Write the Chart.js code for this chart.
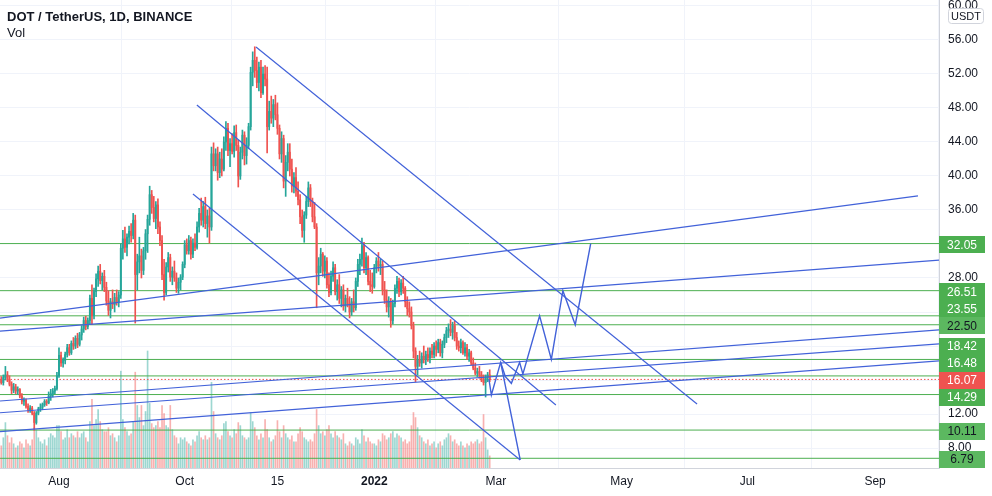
<!DOCTYPE html>
<html>
<head>
<meta charset="utf-8">
<title>DOT / TetherUS</title>
<script src="https://cdn.jsdelivr.net/npm/chart.js@4.4.1/dist/chart.umd.min.js"></script>
<style>
html, body { margin: 0; padding: 0; background: #ffffff; }
#wrap { position: relative; width: 992px; height: 496px; }
</style>
</head>
<body>
<div id="wrap"><canvas id="chart" width="992" height="496"></canvas></div>
<script>
// days are counted from 1 Jul 2021 (day 0); first candle is 3 Jul
var firstDay = 2;

// daily candles [open, high, low, close]
var jul = [
	[15.6,16.3,15.3,16.0],[16.0,16.4,15.5,15.7],[15.7,16.6,15.4,16.3],[16.3,17.6,16.0,16.6],
	[16.6,17.0,15.8,16.0],[16.0,16.5,15.3,15.5],[15.5,15.8,14.4,14.8],[14.8,15.6,14.5,15.2],
	[15.2,15.5,14.4,14.7],[14.7,15.2,14.3,14.9],[14.9,15.0,13.9,14.1],[14.1,14.4,13.2,13.5],
	[13.5,13.9,13.0,13.6],[13.6,13.8,12.7,12.9],[12.9,13.2,12.2,12.5],[12.5,13.0,12.2,12.7],
	[12.7,12.9,11.9,12.1],[12.1,12.3,10.1,11.0],[11.0,12.3,10.8,12.1],[12.1,12.8,11.9,12.6],
	[12.6,13.2,12.3,12.8],[12.8,13.3,12.5,13.1],[13.1,13.7,12.9,13.5],[13.5,13.7,13.0,13.3],
	[13.3,14.6,13.2,14.1],[14.1,14.9,13.6,14.4],[14.4,15.0,14.0,14.7],[14.7,15.3,14.4,15.0],
	[15.0,16.9,14.8,16.5]
];
var aug = [
	[16.5,19.8,16.3,18.9],[18.9,19.3,17.6,18.0],[18.0,18.6,17.5,18.3],[18.3,19.3,17.9,19.0],
	[19.0,20.2,18.7,19.8],[19.8,20.2,18.9,19.2],[19.2,20.6,19.0,20.3],[20.3,21.0,19.6,20.0],
	[20.0,21.2,19.7,20.9],[20.9,21.5,19.8,20.2],[20.2,21.6,20.0,21.3],[21.3,22.4,20.7,22.0],
	[22.0,23.4,21.6,23.0],[23.0,23.5,21.9,22.3],[22.3,23.3,22.0,23.0],[23.0,26.0,22.6,25.6],
	[25.6,27.2,22.5,23.6],[23.6,26.8,23.2,26.4],[26.4,28.5,25.8,27.9],[27.9,29.4,27.0,28.8],
	[28.8,29.6,27.3,27.7],[27.7,28.6,26.6,28.2],[28.2,28.9,26.4,26.9],[26.9,27.5,24.8,25.3],
	[25.3,26.5,23.6,24.2],[24.2,25.6,23.3,25.2],[25.2,26.6,24.4,24.9],[24.9,26.2,24.0,25.7],
	[25.7,26.6,24.8,25.2],[25.2,26.4,24.6,26.0],[26.0,32.0,25.6,31.5]
];
var sep = [
	[31.5,33.6,30.2,32.6],[32.6,34.0,31.0,31.6],[31.6,33.2,30.6,32.8],[32.8,34.1,32.0,33.5],
	[33.5,34.4,32.2,33.0],[33.0,35.6,32.6,34.8],[34.8,35.4,22.7,28.4],[28.4,30.8,26.6,29.9],
	[29.9,32.8,28.6,30.6],[30.6,31.4,28.0,28.9],[28.9,31.6,28.4,31.2],[31.2,33.7,30.2,33.2],
	[33.2,35.4,31.0,34.9],[34.9,38.8,34.2,37.8],[37.8,38.3,35.6,36.3],[36.3,37.6,34.6,35.0],
	[35.0,37.0,33.8,36.6],[36.6,37.3,33.2,34.0],[34.0,34.6,31.8,32.4],[32.4,33.0,27.8,28.4],
	[28.4,30.2,25.4,26.3],[26.3,29.8,26.0,29.3],[29.3,31.0,28.7,30.4],[30.4,30.8,27.6,28.1],
	[28.1,29.3,27.2,28.8],[28.8,30.0,27.6,28.0],[28.0,28.6,26.3,26.8],[26.8,28.0,26.2,27.5],
	[27.5,28.4,26.6,28.1],[28.1,29.9,27.8,29.6]
];
var oct = [
	[29.6,32.4,29.2,31.9],[31.9,32.6,30.8,31.2],[31.2,33.0,30.8,32.4],[32.4,32.8,30.2,30.8],
	[30.8,32.6,30.4,32.1],[32.1,33.2,31.2,31.6],[31.6,34.6,31.4,34.0],[34.0,36.2,33.4,35.6],
	[35.6,37.4,34.2,34.8],[34.8,37.0,34.0,36.4],[36.4,37.5,33.8,34.4],[34.4,36.0,32.8,35.3],
	[35.3,36.2,32.1,34.0],[34.0,43.4,33.6,42.6],[42.6,43.9,40.6,41.2],[41.2,43.2,40.6,42.6],
	[42.6,43.4,39.5,40.4],[40.4,42.8,39.8,42.0],[42.0,43.2,40.0,40.8],[40.8,44.6,40.6,44.0],
	[44.0,46.4,43.0,45.6],[45.6,46.2,42.4,43.0],[43.0,44.4,41.1,43.8],[43.8,45.0,42.6,42.9],
	[42.9,45.9,42.2,45.1],[45.1,46.0,43.0,43.6],[43.6,44.2,38.7,40.0],[40.0,43.4,39.6,42.8],
	[42.8,45.4,42.0,44.8],[44.8,45.2,41.3,42.4],[42.4,44.5,41.4,43.6]
];
var nov = [
	[43.6,46.2,43.2,45.8],[45.8,52.8,45.4,52.2],[52.2,54.6,50.6,53.6],[53.6,55.2,51.6,52.4],
	[52.4,54.0,50.4,51.0],[51.0,53.4,50.0,52.8],[52.8,53.6,49.2,49.8],[49.8,52.8,49.6,52.0],
	[52.0,53.0,50.6,51.4],[51.4,52.8,42.7,45.8],[45.8,48.8,45.4,47.6],[47.6,49.4,46.2,46.8],
	[46.8,49.0,45.8,48.4],[48.4,49.5,46.6,47.2],[47.2,48.6,44.9,45.6],[45.6,46.0,42.0,42.6],
	[42.6,45.2,41.6,44.4],[44.4,44.8,38.6,39.4],[39.4,42.4,37.6,41.6],[41.6,43.8,40.6,42.8],
	[42.8,43.8,40.0,40.8],[40.8,42.0,38.1,38.8],[38.8,40.4,38.0,39.8],[39.8,41.0,37.6,38.2],
	[38.2,39.3,36.6,37.2],[37.2,37.8,34.4,35.2],[35.2,36.0,32.8,33.6],[33.6,35.8,32.2,35.4],
	[35.4,37.6,35.0,37.0],[37.0,39.3,36.4,38.6]
];
var dec = [
	[38.6,39.0,36.4,37.0],[37.0,37.4,34.6,35.2],[35.2,36.9,33.8,34.0],[34.0,34.4,24.5,28.6],
	[28.6,30.4,27.2,29.4],[29.4,31.5,28.6,30.8],[30.8,31.0,28.2,28.8],[28.8,30.6,28.0,30.0],
	[30.0,30.4,26.8,27.2],[27.2,28.6,25.8,26.3],[26.3,28.8,26.0,28.2],[28.2,29.9,27.6,29.2],
	[29.2,29.6,26.0,26.4],[26.4,27.8,25.4,27.2],[27.2,28.4,25.0,25.6],[25.6,27.0,24.6,26.6],
	[26.6,27.2,24.2,24.7],[24.7,26.0,24.0,25.6],[25.6,26.8,24.6,25.0],[25.0,25.8,23.3,24.0],
	[24.0,25.6,23.6,25.2],[25.2,26.6,24.0,24.5],[24.5,28.0,24.2,27.6],[27.6,30.2,27.0,29.6],
	[29.6,30.8,28.4,30.2],[30.2,32.7,29.4,31.8],[31.8,32.2,28.6,29.2],[29.2,31.0,28.4,30.4],
	[30.4,30.6,27.2,27.6],[27.6,28.9,26.4,27.2],[27.2,28.6,26.2,27.0]
];
var jan = [
	[27.0,29.6,26.8,29.2],[29.2,30.4,28.6,30.0],[30.0,31.0,28.8,29.4],[29.4,30.2,28.4,29.6],
	[29.6,30.0,26.0,26.6],[26.6,27.6,25.0,25.4],[25.4,26.6,24.0,24.6],[24.6,25.8,23.4,25.2],
	[25.2,25.6,22.2,23.0],[23.0,25.4,22.6,25.0],[25.0,27.2,24.6,26.8],[26.8,28.2,26.2,27.6],
	[27.6,28.0,25.8,26.4],[26.4,27.8,26.0,27.4],[27.4,28.2,26.2,26.8],[26.8,27.0,24.6,25.2],
	[25.2,25.8,23.6,24.4],[24.4,25.2,23.4,24.0],[24.0,24.6,22.0,22.4],[22.4,22.8,18.6,19.4],
	[19.4,19.8,15.8,17.6],[17.6,18.9,16.6,18.4],[18.4,19.4,17.6,18.0],[18.0,19.2,17.4,18.8],
	[18.8,20.0,18.0,18.4],[18.4,19.4,17.8,19.0],[19.0,19.8,18.2,18.6],[18.6,19.8,18.0,19.4],
	[19.4,20.2,18.6,19.0],[19.0,20.4,18.6,20.0],[20.0,20.6,18.8,19.6]
];
var feb = [
	[19.6,20.8,19.2,20.4],[20.4,20.8,18.8,19.2],[19.2,20.6,18.6,20.2],[20.2,21.4,19.8,21.0],
	[21.0,22.2,20.4,21.8],[21.8,22.6,21.0,22.0],[22.0,23.1,21.2,21.6],[21.6,22.8,20.8,22.4],
	[22.4,22.9,20.6,21.0],[21.0,21.6,19.6,20.0],[20.0,20.6,19.4,19.8],[19.8,20.8,19.2,20.4],
	[20.4,20.6,19.0,19.2],[19.2,20.4,18.8,19.8],[19.8,20.2,18.4,18.8],[18.8,19.6,18.2,19.2],
	[19.2,19.4,17.8,18.0],[18.0,18.6,17.2,17.4],[17.4,18.0,16.6,16.8],[16.8,17.4,16.4,17.0],
	[17.0,17.6,16.2,16.6],[16.6,17.0,15.8,16.0],[16.0,16.6,15.4,15.7],[15.7,16.6,14.0,16.3],
	[16.3,16.9,15.8,16.6],[16.6,17.2,15.8,16.07]
];

// daily volume, millions of DOT
var volJul = [2.6,2.2,3.0,4.5,3.2,2.5,3.0,2.4,2.0,2.2,2.6,2.4,2.0,2.8,2.4,2.2,2.8,4.0,3.8,3.0,2.6,2.4,2.8,2.2,3.0,3.4,3.2,3.0,4.2];
var volAug = [4.2,3.6,2.8,3.0,3.8,3.0,3.4,3.2,3.0,3.6,3.0,3.4,3.6,3.0,2.6,4.6,6.8,4.2,4.8,5.8,4.6,3.8,3.6,3.6,4.0,3.2,3.4,3.0,2.6,3.2,9.6];
var volSep = [4.8,4.0,3.6,3.2,3.4,4.6,9.5,6.2,5.0,6.2,4.2,5.6,11.6,6.4,4.4,4.0,4.2,4.6,4.0,6.2,5.4,4.2,4.0,6.2,3.8,3.2,3.0,2.4,3.0,2.8];
var volOct = [3.0,2.6,2.4,2.2,2.8,2.6,3.2,3.6,3.0,2.8,3.2,2.8,3.0,8.5,5.6,3.4,3.0,2.8,3.2,4.4,4.6,3.6,3.2,3.0,3.8,3.4,4.5,4.2,3.2,3.0,2.8];
var volNov = [3.0,5.5,4.6,4.0,3.2,2.8,3.4,3.0,4.8,3.8,3.0,2.6,2.8,3.2,4.7,3.6,3.0,4.2,3.4,3.0,2.8,3.2,2.6,2.6,3.4,4.0,3.6,3.0,2.8,2.6];
var volDec = [2.8,2.6,3.4,5.8,4.2,3.4,3.6,3.2,3.8,4.2,3.4,3.0,3.6,3.2,3.0,2.8,3.4,2.4,2.2,2.6,2.4,2.2,3.0,2.8,2.4,3.8,3.2,2.6,3.0,2.6,2.4];
var volJan = [2.4,2.2,2.8,2.6,3.4,3.2,2.8,3.0,3.4,3.6,3.0,3.4,3.2,3.0,2.6,2.8,2.4,2.6,4.2,5.5,5.0,4.0,3.2,3.0,2.6,2.4,2.8,2.2,2.4,2.6,2.0];
var volFeb = [2.4,2.6,2.2,2.8,3.0,3.4,3.2,2.6,2.8,2.4,2.2,2.6,2.2,2.0,2.4,2.2,2.6,2.4,2.6,2.8,2.4,2.6,5.3,3.0,1.8,1.2];

// time axis
var tickDays = [31, 92, 137, 184, 243, 304, 365, 427];
var tickLabels = ['Aug', 'Oct', '15', '2022', 'Mar', 'May', 'Jul', 'Sep'];
var priceTicks = [8, 12, 16, 20, 24, 28, 32, 36, 40, 44, 48, 52, 56, 60];

// horizontal levels and last price
var levels = [32.05, 26.51, 23.55, 22.50, 18.42, 16.48, 14.29, 10.11, 6.79];
var lastPrice = 16.07;

// trend lines [[day, price], [day, price]]
var trendLines = [
	[[126.6, 55.18], [340.6, 13.18]],
	[[97.9, 48.35], [272.1, 13.06]],
	[[96.0, 37.88], [254.8, 6.6]],
	[[2.38, 23.29], [447.8, 37.65]],
	[[2.38, 21.76], [458, 30.1]],
	[[2.38, 13.53], [458, 21.9]],
	[[2.38, 12.15], [458, 20.25]],
	[[2.38, 9.92], [458, 18.25]]
];
// projected path
var pathUp = [[239.6,16.12],[240.8,14.24],[245.3,18.08],[247.6,16.39],[250.5,15.61],[254.5,18.08],
	[256.1,16.71],[264.2,23.55],[269.9,18.42],[275.5,26.51],[281.5,22.50],[289.0,32.05]];
var pathDown = [[245.3, 18.08], [254.8, 6.6]];

// ---- styles ----
var UP = '#26a69a', DOWN = '#ef5350';
var GREEN = '#4caf50', BLUE = '#4262d9';
var FONT = '"Liberation Sans", Arial, sans-serif';
var dayMin = 2.38, dayMax = 458;
var darkTextLevels = [22.50, 10.11, 6.79];

var candles = [].concat(jul, aug, sep, oct, nov, dec, jan, feb);
var volumes = [].concat(volJul, volAug, volSep, volOct, volNov, volDec, volJan, volFeb);

var wickData = [], bodyData = [], volData = [], candleColors = [], volColors = [];
candles.forEach(function (c, i) {
	var day = firstDay + i;
	var up = c[3] >= c[0];
	wickData.push({x: day, y: [c[2], c[1]]});
	bodyData.push({x: day, y: [Math.min(c[0], c[3]), Math.max(c[0], c[3])]});
	volData.push({x: day, y: volumes[i]});
	candleColors.push(up ? UP : DOWN);
	volColors.push(up ? 'rgba(38,166,154,0.45)' : 'rgba(239,83,80,0.45)');
});

function lineSet(points, color, width, dash, order)
{
	return {
		type: 'line',
		data: points.map(function (p) { return {x: p[0], y: p[1]}; }),
		borderColor: color,
		borderWidth: width,
		borderDash: dash || [],
		pointRadius: 0,
		fill: false,
		tension: 0,
		order: order,
		yAxisID: 'y'
	};
}

var datasets = [
	{ data: volData, backgroundColor: volColors, barThickness: 1, yAxisID: 'yVol', order: 20 },
	{ data: wickData, backgroundColor: candleColors, barThickness: 1, yAxisID: 'y', order: 6 },
	{ data: bodyData, backgroundColor: candleColors, barThickness: 1.3, minBarLength: 1, yAxisID: 'y', order: 5 }
];
levels.forEach(function (lv) {
	datasets.push(lineSet([[dayMin, lv], [dayMax, lv]], GREEN, 1, null, 10));
});
datasets.push(lineSet([[dayMin, lastPrice], [dayMax, lastPrice]], DOWN, 1, [1.5, 2], 9));
trendLines.forEach(function (t) {
	datasets.push(lineSet(t, BLUE, 1.2, null, 2));
});
datasets.push(lineSet(pathUp, BLUE, 1.4, null, 1));
datasets.push(lineSet(pathDown, BLUE, 1.4, null, 1));

// price labels on the right axis, title texts
var overlay = {
	id: 'overlay',
	afterDraw: function (chart)
	{
		var ctx = chart.ctx;
		var yScale = chart.scales.y;
		var area = chart.chartArea;
		var boxH = 17;

		var cur = {v: lastPrice, y: yScale.getPixelForValue(lastPrice), bg: DOWN, fg: '#ffffff'};
		cur.by = cur.y;
		var items = levels.map(function (v) {
			var dark = darkTextLevels.indexOf(v) >= 0;
			return {v: v, y: yScale.getPixelForValue(v), bg: dark ? '#5cb860' : GREEN, fg: dark ? '#131722' : '#ffffff'};
		});
		var above = items.filter(function (it) { return it.v > lastPrice; }).sort(function (a, b) { return b.y - a.y; });
		var prev = cur.by;
		above.forEach(function (it) { it.by = Math.min(it.y, prev - boxH); prev = it.by; });
		var below = items.filter(function (it) { return it.v < lastPrice; }).sort(function (a, b) { return a.y - b.y; });
		prev = cur.by;
		below.forEach(function (it) { it.by = Math.max(it.y, prev + boxH); prev = it.by; });

		ctx.save();
		ctx.font = '12px ' + FONT;
		ctx.textAlign = 'center';
		ctx.textBaseline = 'middle';
		items.concat([cur]).forEach(function (it) {
			ctx.fillStyle = it.bg;
			ctx.fillRect(area.right, Math.round(it.by - boxH / 2) + 1, 46, boxH);
			ctx.fillStyle = it.fg;
			ctx.fillText(it.v.toFixed(2), area.right + 23, Math.round(it.by) + 1.5);
		});

		// currency badge
		ctx.fillStyle = '#ffffff';
		ctx.strokeStyle = '#d1d4dc';
		ctx.lineWidth = 1;
		ctx.beginPath();
		ctx.roundRect(948.5, 8.5, 35, 15, 3);
		ctx.fill();
		ctx.stroke();
		ctx.fillStyle = '#131722';
		ctx.font = '11px ' + FONT;
		ctx.fillText('USDT', 966, 16.5);

		// legend
		ctx.textAlign = 'left';
		ctx.textBaseline = 'alphabetic';
		ctx.fillStyle = '#131722';
		ctx.font = 'bold 13px ' + FONT;
		ctx.fillText('DOT / TetherUS, 1D, BINANCE', 7, 21);
		ctx.font = '13px ' + FONT;
		ctx.fillText('Vol', 7, 37);
		ctx.restore();
	}
};

new Chart(document.getElementById('chart').getContext('2d'), {
	type: 'bar',
	data: { datasets: datasets },
	plugins: [overlay],
	options: {
		responsive: false,
		animation: false,
		devicePixelRatio: 1,
		layout: { padding: 0 },
		plugins: { legend: { display: false }, tooltip: { enabled: false } },
		datasets: { bar: { grouped: false, borderWidth: 0 } },
		scales: {
			x: {
				type: 'linear',
				min: dayMin,
				max: dayMax,
				offset: false,
				afterBuildTicks: function (axis) {
					axis.ticks = tickDays.map(function (d) { return {value: d}; });
				},
				afterFit: function (axis) { axis.height = 28; axis.paddingLeft = 0; axis.paddingRight = 0; },
				ticks: {
					autoSkip: false,
					maxRotation: 0,
					padding: 6,
					color: '#131722',
					callback: function (v) { return tickLabels[tickDays.indexOf(v)]; },
					font: function (c) {
						var lab = c.tick ? tickLabels[tickDays.indexOf(c.tick.value)] : '';
						return { family: FONT, size: 12, weight: /^\d{4}$/.test(lab) ? 'bold' : 'normal' };
					}
				},
				grid: { color: '#f0f3fa', drawTicks: false },
				border: { display: true, color: '#d1d4dc' }
			},
			y: {
				type: 'linear',
				position: 'right',
				min: 5.65,
				max: 60.7,
				afterBuildTicks: function (axis) {
					axis.ticks = priceTicks.map(function (v) { return {value: v}; });
				},
				afterFit: function (axis) { axis.width = 53; axis.paddingTop = 0; axis.paddingBottom = 0; },
				ticks: {
					padding: 9,
					color: '#131722',
					font: { family: FONT, size: 12 },
					callback: function (v) { return Number(v).toFixed(2); }
				},
				grid: { color: '#f0f3fa', drawTicks: false },
				border: { display: true, color: '#d1d4dc' }
			},
			yVol: { type: 'linear', display: false, min: 0, max: 46.4 }
		}
	}
});
</script>
</body>
</html>
